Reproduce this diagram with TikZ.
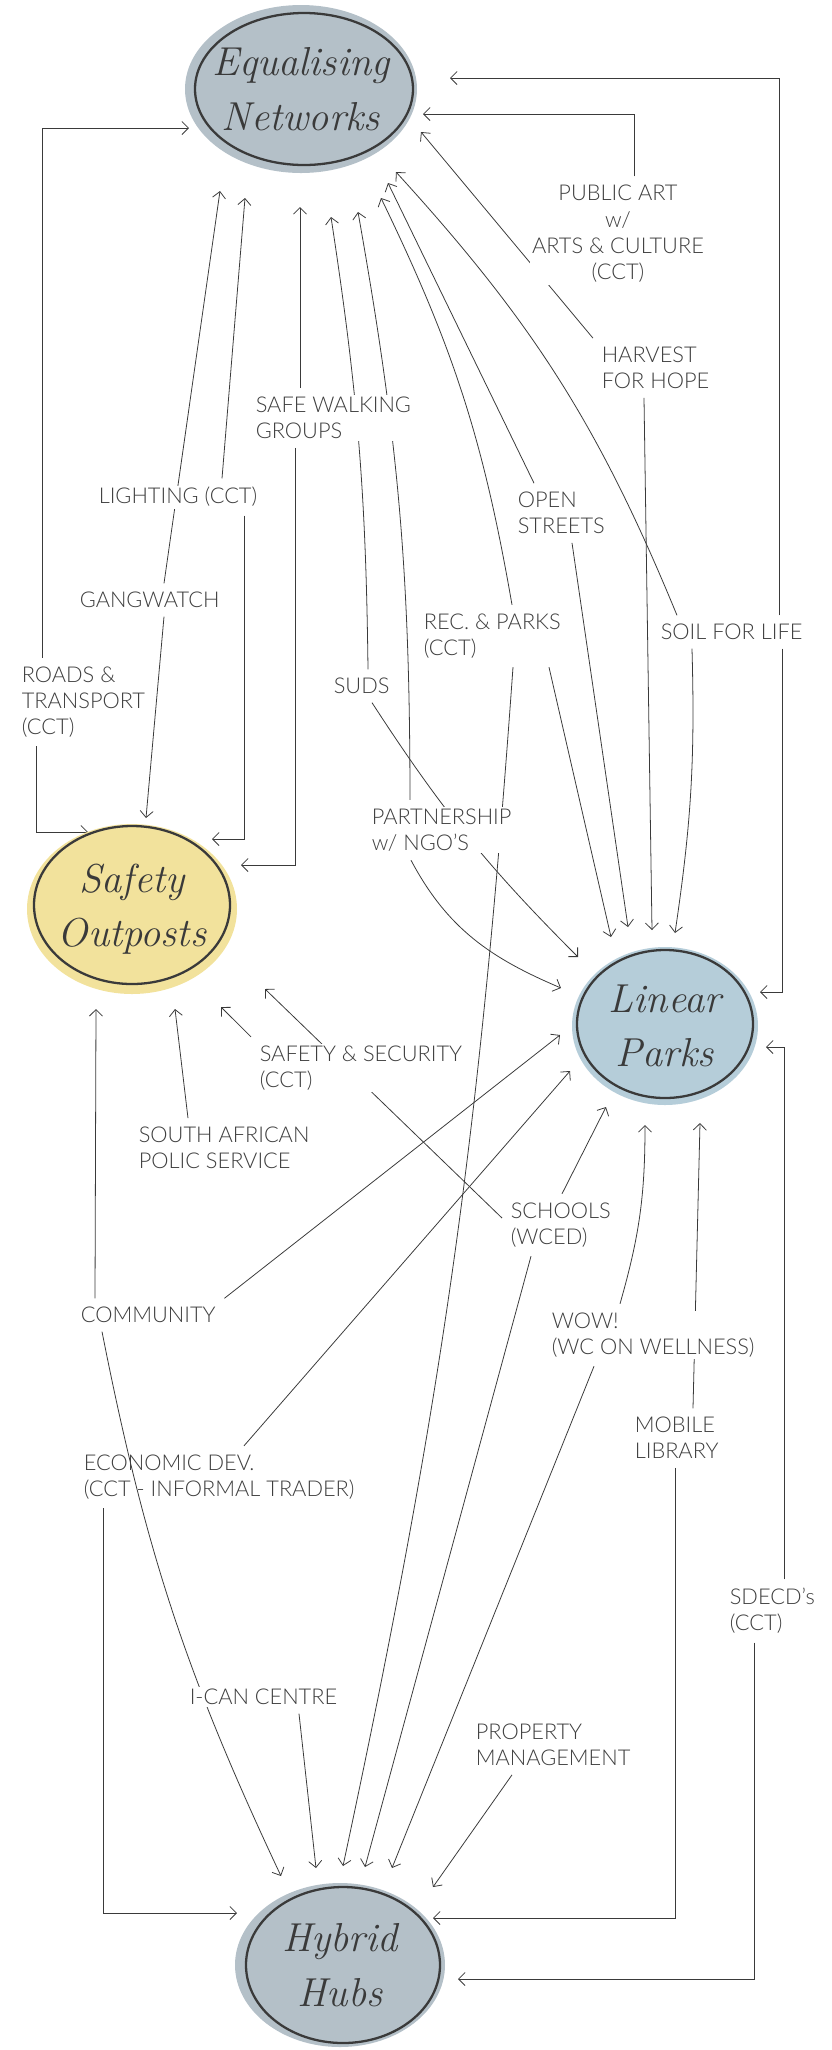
\documentclass[tikz,border=0pt]{standalone}
\usepackage{fontspec}
\IfFontExistsTF{Lato Light}{\newfontfamily\lblfont{Lato Light}}{\newfontfamily\lblfont{Lato}}
\usetikzlibrary{arrows.meta,calc}
\definecolor{hubG}{HTML}{B4C0C8}
\definecolor{hubY}{HTML}{F2E29C}
\definecolor{hubB}{HTML}{B5CDD9}
\definecolor{ink}{HTML}{3A3A3A}
\definecolor{txt}{HTML}{3E3E3E}
\pgfdeclarelayer{bg}
\pgfsetlayers{bg,main}

\begin{document}
\begin{tikzpicture}[x=0.02cm,y=0.02cm,
  lbl/.style={anchor=west,align=left,fill=white,inner sep=1pt,outer sep=4pt,text=txt,font=\lblfont\fontsize{12.4}{15}\selectfont},
  hubtxt/.style={align=center,text=ink,font=\itshape\fontsize{23}{31}\selectfont},
  rim/.style={draw=ink,line width=1.3pt},
  arr/.style={-{Straight Barb[length=1.3mm,width=2.6mm]},draw=ink,line width=0.45pt}]
\useasboundingbox (0,0) rectangle (832,-2050);
% hubs
\foreach \n/\x/\y/\rx/\ry/\ox/\oy/\orx/\ory/\col/\ttl in {
  EN/301/89/116/84/304/89/109/76/hubG/{Equalising\\Networks},
  SO/132/909/105/85/132/905/98/79/hubY/{Safety\\Outposts},
  LP/665/1026/93/79/665/1024/88/74/hubB/{Linear\\Parks},
  HH/340/1965/105/82/343/1965/97/78/hubG/{Hybrid\\Hubs}}{
  \fill[\col] (\x,-\y) ellipse [x radius=\rx,y radius=\ry];
  \draw[rim] (\ox,-\oy) ellipse [x radius=\orx,y radius=\ory];
  \node[hubtxt] (\n) at (\x,-\y) {\ttl};
}
% arrow tips next to the hubs
\foreach \n/\x/\y in {tEN1/189/128,tEN2/220/191,tEN3/245/198,tEN4/300/207,tEN5/331/217,
  tEN6/358/212,tEN7/381/198,tEN8/388/183,tEN9/396/172,tEN10/421/132,tEN11/423/114,tEN12/450/78,
  tSO1/88/832,tSO2/146/818,tSO3/212/839,tSO4/241/865,tSO5/96/1009,tSO6/175/1009,tSO7/221/1007,tSO8/265/989,
  tLP1/578/957,tLP2/561/988,tLP3/611/937,tLP4/628/927,tLP5/652/930,tLP6/675/933,tLP7/760/992,
  tLP8/560/1035,tLP9/570/1071,tLP10/606/1107,tLP11/645/1125,tLP12/700/1123,tLP13/766/1047,
  tHH1/281/1876,tHH2/316/1868,tHH3/343/1866,tHH4/365/1867,tHH5/392/1868,tHH6/433/1887,
  tHH7/237/1913,tHH8/433/1918,tHH9/458/1979}
  \coordinate (\n) at (\x,-\y);
% labels
\node[lbl,anchor=center,align=center] (art) at (618,-234) {PUBLIC ART\\w/\\ARTS \& CULTURE\\(CCT)};
\node[lbl] (hfh) at (593,-368) {HARVEST\\FOR HOPE};
\node[lbl] (swg) at (247,-418) {SAFE WALKING\\GROUPS};
\node[lbl] (lgt) at (90,-497) {LIGHTING (CCT)};
\node[lbl] (ost) at (509,-513) {OPEN\\STREETS};
\node[lbl] (gng) at (71,-600) {GANGWATCH};
\node[lbl] (rec) at (415,-636) {REC. \& PARKS\\(CCT)};
\node[lbl] (sfl) at (652,-632) {SOIL FOR LIFE};
\node[lbl] (rtr) at (13,-702) {ROADS \&\\TRANSPORT\\(CCT)};
\node[lbl] (suds) at (325,-686) {SUDS};
\node[lbl] (png) at (363,-830) {PARTNERSHIP\\w/ NGO’S};
\node[lbl] (sas) at (251,-1068) {SAFETY \& SECURITY\\(CCT)};
\node[lbl] (saps) at (130,-1148) {SOUTH AFRICAN\\POLIC SERVICE};
\node[lbl] (sch) at (502,-1225) {SCHOOLS\\(WCED)};
\node[lbl] (com) at (72,-1315) {COMMUNITY};
\node[lbl] (wow) at (543,-1335) {WOW!\\(WC ON WELLNESS)};
\node[lbl] (mob) at (626,-1438) {MOBILE\\LIBRARY};
\node[lbl,fill=none] (eco) at (75,-1477) {ECONOMIC DEV.\\(CCT - INFORMAL TRADER)};
\node[lbl] (sdc) at (721,-1611) {SDECD’s\\(CCT)};
\node[lbl] (ican) at (181,-1697) {I-CAN CENTRE};
\node[lbl] (prop) at (467,-1745) {PROPERTY\\MANAGEMENT};
\begin{pgfonlayer}{bg}
% to Equalising Networks
\draw[arr] (rtr.north -| 42,0) |- (tEN1);
\draw[arr] (gng.north -| 164,0) -- (tEN2);
\draw[arr] (lgt.north -| 222,0) -- (tEN3);
\draw[arr] (swg.north -| 300,0) -- (tEN4);
\draw[arr] (suds.north -| 368,0) to[bend right=4] (tEN5);
\draw[arr] (png.north -| 410,0) to[bend right=5] (tEN6);
\draw[arr] (rec.north -| 512,0) to[bend right=8] (tEN7);
\draw[arr] (ost.north -| 534,0) -- (tEN8);
\draw[arr] (sfl.north -| 677,0) to[bend right=10] (tEN9);
\draw[arr] (hfh.north west) -- (tEN10);
\draw[arr] (art.north -| 634,0) |- (tEN11);
\draw[arr] (sfl.north -| 779,0) |- (tEN12);
% to Safety Outposts
\draw[arr] (rtr.south -| 36,0) |- (tSO1);
\draw[arr] (gng.south -| 164,0) -- (tSO2);
\draw[arr] (lgt.south -| 244,0) |- (tSO3);
\draw[arr] (swg.south -| 295,0) |- (tSO4);
\draw[arr] (com.north -| 95,0) -- (tSO5);
\draw[arr] (saps.north -| 188,0) -- (tSO6);
\draw[arr] (sas.north west) -- (tSO7);
\draw[arr] (sch.west |- 0,-1218) -- (tSO8);
% to Linear Parks
\draw[arr] (suds.south -| 372,0) to[bend right=6] (tLP1);
\draw[arr] (png.south -| 411,0) to[out=-62,in=157] (tLP2);
\draw[arr] (rec.south -| 549,0) -- (tLP3);
\draw[arr] (ost.south -| 572,0) -- (tLP4);
\draw[arr] (hfh.south -| 644,0) -- (tLP5);
\draw[arr] (sfl.south -| 692,0) to[bend left=5] (tLP6);
\draw[arr] (sfl.south -| 782,0) |- (tLP7);
\draw[arr] (com.north east) -- (tLP8);
\draw[arr] (eco.north -| 244,0) -- (tLP9);
\draw[arr] (sch.north -| 562,0) -- (tLP10);
\draw[arr] (wow.north -| 620,0) to[bend right=8] (tLP11);
\draw[arr] (mob.north -| 693,0) -- (tLP12);
\draw[arr] (sdc.north -| 784,0) |- (tLP13);
% to Hybrid Hubs
\draw[arr] (com.south -| 102,0) to[bend right=7] (tHH1);
\draw[arr] (ican.south -| 299,0) -- (tHH2);
\draw[arr] (rec.south -| 513,0) to[bend left=4] (tHH3);
\draw[arr] (sch.south -| 531,0) -- (tHH4);
\draw[arr] (wow.south -| 594,0) -- (tHH5);
\draw[arr] (prop.south -| 512,0) -- (tHH6);
\draw[arr] (eco.south -| 103,0) |- (tHH7);
\draw[arr] (mob.south -| 675,0) |- (tHH8);
\draw[arr] (sdc.south -| 754,0) |- (tHH9);
\end{pgfonlayer}
\end{tikzpicture}
\end{document}
